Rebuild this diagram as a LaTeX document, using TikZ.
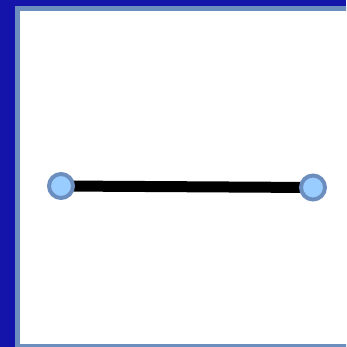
\documentclass[tikz,border=0pt]{standalone}
\definecolor{darkblue}{HTML}{1414AA}
\definecolor{frameblue}{HTML}{6C8EBF}
\definecolor{dotfill}{HTML}{99CCFF}
\tikzset{
  endpoint/.style={circle, draw=frameblue, fill=dotfill, line width=4pt, minimum size=24pt, inner sep=0pt},
  wire/.style={line width=11pt, black},
}
\begin{document}
\begin{tikzpicture}[x=1pt,y=-1pt]
\useasboundingbox (0,0) rectangle (346,347);
\begin{scope}
\clip (0,0) rectangle (346,347);
\fill[darkblue] (0,0) rectangle (346,347);
\fill[white, draw=frameblue, line width=5pt] (17.5,8.5) rectangle (360,346.5);
\coordinate (p) at (61,186);
\coordinate (q) at (313,187.5);
\draw[wire] (p) -- (q);
\node[endpoint] (a) at (p) {};
\node[endpoint] (b) at (q) {};
\end{scope}
\end{tikzpicture}
\end{document}
